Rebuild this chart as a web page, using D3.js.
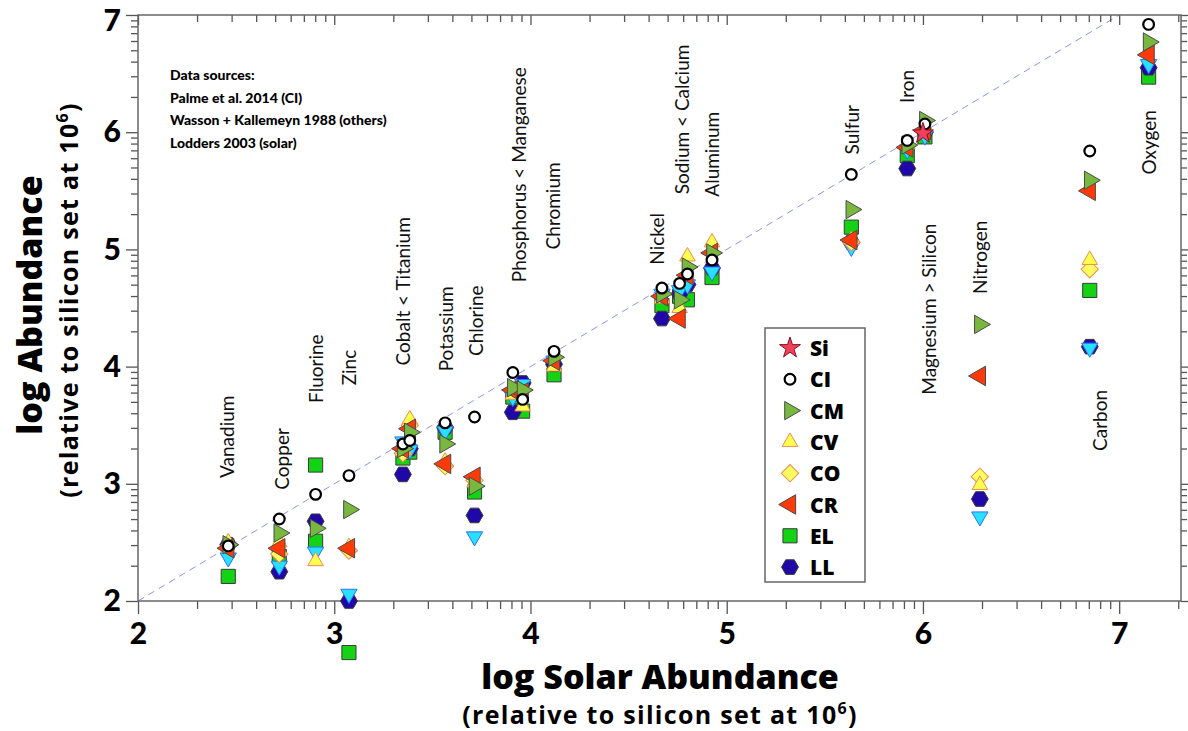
<!DOCTYPE html>
<html>
<head>
<meta charset="utf-8">
<script src="https://cdn.jsdelivr.net/npm/d3@7"></script>
<style>
	body { margin: 0; background: #fff; }
	svg { display: block; }
	text { font-family: Lato, "Open Sans", sans-serif; }
	.title { font-family: "Open Sans", Lato, sans-serif; }
</style>
</head>
<body>
<svg id="chart" width="1188" height="731"></svg>
<script>
// elements, in order of solar abundance
const elements = ['V', 'Cu', 'F', 'Zn', 'Co', 'Ti', 'K', 'Cl', 'P', 'Mn', 'Cr', 'Ni', 'Na', 'Ca', 'Al', 'S', 'Fe', 'Mg', 'Si', 'N', 'C', 'O']
const solar = [2.46, 2.72, 2.905, 3.075, 3.35, 3.385, 3.565, 3.715, 3.91, 3.96, 4.12, 4.67, 4.76, 4.80, 4.925, 5.635, 5.92, 6.01, 6.0, 6.29, 6.85, 7.15]

// log abundance of each meteorite group (null = not plotted)
const siValues = [null, null, null, null, null, null, null, null, null, null, null, null, null, null, null, null, null, null, 5.99, null, null, null]
const ciValues = [2.47, 2.70, 2.91, 3.07, 3.34, 3.37, 3.52, 3.57, 3.95, 3.72, 4.13, 4.67, 4.71, 4.79, 4.91, 5.64, 5.93, 6.07, null, null, 5.84, 6.92]
const cmValues = [2.48, 2.58, 2.62, 2.78, 3.30, 3.44, 3.34, 2.98, 3.82, 3.80, 4.08, 4.62, 4.57, 4.85, 4.97, 5.34, 5.89, 6.10, null, 4.36, 5.59, 6.77]
const cvValues = [2.50, 2.50, 2.34, 2.46, 3.28, 3.55, 3.19, 3.01, 3.76, 3.66, 4.00, 4.58, 4.50, 4.94, 5.06, 5.08, 5.90, 6.05, null, 2.99, 4.91, null]
const coValues = [null, 2.40, null, 2.43, 3.26, 3.50, 3.15, 3.03, null, null, null, null, null, null, null, 5.06, null, null, null, 3.06, 4.83, null]
const crValues = [2.45, 2.45, null, 2.45, 3.30, 3.47, 3.17, 3.06, 3.80, 3.78, 4.05, 4.60, 4.41, 4.78, 4.97, 5.08, 5.87, 6.02, null, 3.92, 5.50, 6.66]
const elValues = [2.21, 2.38, 2.51, 1.56, 3.22, 3.27, 3.44, 2.93, 3.74, 3.62, 3.93, 4.52, 4.60, 4.57, 4.76, 5.19, 5.80, 5.96, null, null, 4.65, 6.47]
const ehValues = [null, null, 3.16, null, null, null, null, null, null, null, null, null, null, null, null, null, null, null, null, null, null, null]
const llValues = [2.48, 2.25, 2.68, 2.00, 3.08, 3.30, 3.48, 2.73, 3.61, 3.86, 4.02, 4.41, 4.62, 4.70, 4.84, 5.06, 5.69, 6.00, null, 2.87, 4.17, 6.55]
const hValues = [2.37, 2.30, 2.42, 2.06, 3.36, 3.29, 3.45, 2.55, 3.74, 3.85, 4.05, 4.62, 4.65, 4.70, 4.81, 5.02, 5.85, 5.97, null, 2.72, 4.16, 6.58]

const legendNames = ['Si', 'CI', 'CM', 'CV', 'CO', 'CR', 'EL', 'LL']

// element labels: text, solar x, y where the (rotated) text starts
const labelTexts = ['Vanadium', 'Copper', 'Fluorine', 'Zinc', 'Cobalt < Titanium', 'Potassium', 'Chlorine', 'Phosphorus < Manganese', 'Chromium', 'Nickel', 'Sodium < Calcium', 'Aluminum', 'Sulfur', 'Iron', 'Magnesium > Silicon', 'Nitrogen', 'Carbon', 'Oxygen']
const labelX = [2.45, 2.73, 2.905, 3.075, 3.35, 3.565, 3.72, 3.94, 4.11, 4.64, 4.77, 4.92, 5.635, 5.915, 6.03, 6.29, 6.9, 7.15]
const labelY = [3.05, 2.95, 3.69, 3.84, 4.01, 3.96, 4.09, 4.72, 5.0, 4.87, 5.47, 5.45, 5.81, 6.25, 3.76, 4.62, 3.28, 5.64]

const sources = ['Data sources:', 'Palme et al. 2014 (CI)', 'Wasson + Kallemeyn 1988 (others)', 'Lodders 2003 (solar)']

const majorTicks = [2, 3, 4, 5, 6, 7]

let hexagon = {
	draw(context, size) {
		let r = Math.sqrt(size / (1.5 * Math.sqrt(3)))
		for (let i = 0; i < 6; i++) {
			let a = i * Math.PI / 3
			if (i == 0) context.moveTo(r * Math.cos(a), r * Math.sin(a))
			else context.lineTo(r * Math.cos(a), r * Math.sin(a))
		}
		context.closePath()
	}
}

// marker styles per group
const styles = {
	Si: {type: d3.symbolStar, size: 135, rot: 0, fill: '#f0405a', stroke: '#8a1020', sw: 1},
	CI: {type: d3.symbolCircle, size: 90, rot: 0, fill: '#fff', stroke: '#000', sw: 2.2},
	CM: {type: d3.symbolTriangle, size: 145, rot: 90, fill: '#78b83e', stroke: '#4a4a4a', sw: 1},
	CV: {type: d3.symbolTriangle, size: 105, rot: 0, fill: '#ffff50', stroke: '#f08a50', sw: 1},
	CO: {type: d3.symbolSquare, size: 150, rot: 45, fill: '#ffff60', stroke: '#f08a50', sw: 1},
	CR: {type: d3.symbolTriangle, size: 165, rot: -90, fill: '#ff3a08', stroke: '#4a4a4a', sw: 1},
	EL: {type: d3.symbolSquare, size: 200, rot: 0, fill: '#14d214', stroke: '#3a3a3a', sw: 1},
	EH: {type: d3.symbolSquare, size: 200, rot: 0, fill: '#14d214', stroke: '#3a3a3a', sw: 1},
	LL: {type: hexagon, size: 185, rot: 0, fill: '#2008a8', stroke: '#3a3a3a', sw: 1},
	H: {type: d3.symbolTriangle, size: 115, rot: 180, fill: '#28e0ff', stroke: '#3070ff', sw: 1}
}

// drawing order (bottom first)
const series = [
	['EL', elValues], ['EH', ehValues], ['LL', llValues], ['H', hValues], ['CO', coValues],
	['CV', cvValues], ['CR', crValues], ['CM', cmValues], ['CI', ciValues], ['Si', siValues]
]

let svg = d3.select('#chart')
let plotLeft = 138, plotRight = 1181, plotTop = 15, plotBottom = 601

let x = d3.scaleLinear().domain([2, 7.315]).range([plotLeft, plotRight])
let y = d3.scaleLinear().domain([2, 7]).range([plotBottom, plotTop])

let minorX = [], minorY = []
for (let d = 2; d <= 7; d++) {
	for (let k = 2; k <= 9; k++) {
		let v = d + Math.log10(k)
		if (v <= 7.315) minorX.push(v)
		if (v <= 7) minorY.push(v)
	}
}

// 1:1 line
svg.append('line')
	.attr('x1', x(2)).attr('y1', y(2))
	.attr('x2', x(7)).attr('y2', y(7))
	.attr('stroke', '#8f92ee')
	.attr('stroke-width', 1)
	.attr('stroke-dasharray', '7,5')

// axes
function styleAxis(g, labels) {
	g.select('.domain').remove()
	g.selectAll('line').attr('stroke', '#555').attr('stroke-width', 1.3)
	if (labels) g.selectAll('text').attr('font-size', 30).attr('font-weight', 900).attr('fill', '#000')
	else g.selectAll('text').remove()
}

svg.append('g').attr('transform', `translate(0,${plotBottom})`)
	.call(d3.axisBottom(x).tickValues(majorTicks).tickSize(13).tickPadding(9).tickFormat(d3.format('d')))
	.call(g => styleAxis(g, true))
svg.append('g').attr('transform', `translate(0,${plotBottom})`)
	.call(d3.axisBottom(x).tickValues(minorX).tickSize(8))
	.call(g => styleAxis(g, false))
svg.append('g').attr('transform', `translate(0,${plotTop})`)
	.call(d3.axisBottom(x).tickValues(majorTicks).tickSize(10))
	.call(g => styleAxis(g, false))
svg.append('g').attr('transform', `translate(0,${plotTop})`)
	.call(d3.axisBottom(x).tickValues(minorX).tickSize(7))
	.call(g => styleAxis(g, false))
svg.append('g').attr('transform', `translate(${plotLeft},0)`)
	.call(d3.axisLeft(y).tickValues(majorTicks).tickSize(12).tickPadding(5).tickFormat(d3.format('d')))
	.call(g => styleAxis(g, true))
	.call(g => g.selectAll('text').attr('dy', d => d == 7 ? '0.5em' : '0.32em'))
svg.append('g').attr('transform', `translate(${plotLeft},0)`)
	.call(d3.axisLeft(y).tickValues(minorY).tickSize(7))
	.call(g => styleAxis(g, false))
svg.append('g').attr('transform', `translate(${plotRight},0)`)
	.call(d3.axisRight(y).tickValues(majorTicks).tickSize(10))
	.call(g => styleAxis(g, false))
svg.append('g').attr('transform', `translate(${plotRight},0)`)
	.call(d3.axisRight(y).tickValues(minorY).tickSize(6))
	.call(g => styleAxis(g, false))

// frame
svg.append('rect')
	.attr('x', plotLeft).attr('y', plotTop)
	.attr('width', plotRight - plotLeft).attr('height', plotBottom - plotTop)
	.attr('fill', 'none').attr('stroke', '#666').attr('stroke-width', 1.5)

// element labels
svg.append('g').selectAll('text')
	.data(labelTexts)
	.join('text')
	.attr('transform', (d, i) => `translate(${x(labelX[i])},${y(labelY[i])}) rotate(-90)`)
	.attr('dominant-baseline', 'central')
	.attr('font-size', 19)
	.attr('fill', '#111')
	.text(d => d)

// markers
let symbolPath = s => d3.symbol().type(s.type).size(s.size)()

series.forEach(([name, values]) => {
	let s = styles[name]
	svg.append('g').selectAll('path')
		.data(values.map((v, i) => ({x: solar[i], y: v})).filter(d => d.y !== null))
		.join('path')
		.attr('d', symbolPath(s))
		.attr('transform', d => `translate(${x(d.x)},${y(d.y)}) rotate(${s.rot})`)
		.attr('fill', s.fill)
		.attr('stroke', s.stroke)
		.attr('stroke-width', s.sw)
})

// data sources note
svg.append('g').selectAll('text')
	.data(sources)
	.join('text')
	.attr('x', 170)
	.attr('y', (d, i) => 80 + i * 22.5)
	.attr('font-size', 14)
	.attr('font-weight', 900)
	.text(d => d)

// legend
let legend = svg.append('g')
legend.append('rect')
	.attr('x', 765).attr('y', 328).attr('width', 100).attr('height', 254)
	.attr('fill', '#fff').attr('stroke', '#666').attr('stroke-width', 1.5)
let rows = legend.selectAll('g.row')
	.data(legendNames)
	.join('g')
	.attr('class', 'row')
	.attr('transform', (d, i) => `translate(0,${348 + i * 31.3})`)
rows.append('path')
	.attr('d', d => symbolPath(styles[d]))
	.attr('transform', d => `translate(790,0) rotate(${styles[d].rot})`)
	.attr('fill', d => styles[d].fill)
	.attr('stroke', d => styles[d].stroke)
	.attr('stroke-width', d => styles[d].sw)
rows.append('text')
	.attr('class', 'title')
	.attr('x', 810)
	.attr('dominant-baseline', 'central')
	.attr('font-size', 21)
	.attr('font-weight', 800)
	.text(d => d)

// axis titles
function subtitle(sel) {
	sel.attr('class', 'title')
		.attr('text-anchor', 'middle')
		.attr('font-size', 25).attr('font-weight', 700)
		.attr('letter-spacing', 1.3)
	sel.append('tspan').text('(relative to silicon set at 10')
	sel.append('tspan').attr('font-size', 16).attr('dy', -10).text('6')
	sel.append('tspan').attr('dy', 10).text(')')
}

svg.append('text')
	.attr('class', 'title')
	.attr('x', 660).attr('y', 689)
	.attr('text-anchor', 'middle')
	.attr('font-size', 34).attr('font-weight', 800)
	.text('log Solar Abundance')
svg.append('text')
	.attr('x', 660).attr('y', 724)
	.call(subtitle)

svg.append('text')
	.attr('class', 'title')
	.attr('transform', 'translate(42,305) rotate(-90)')
	.attr('text-anchor', 'middle')
	.attr('font-size', 34).attr('font-weight', 800)
	.text('log Abundance')
svg.append('text')
	.attr('transform', 'translate(78,300) rotate(-90)')
	.call(subtitle)
</script>
</body>
</html>
